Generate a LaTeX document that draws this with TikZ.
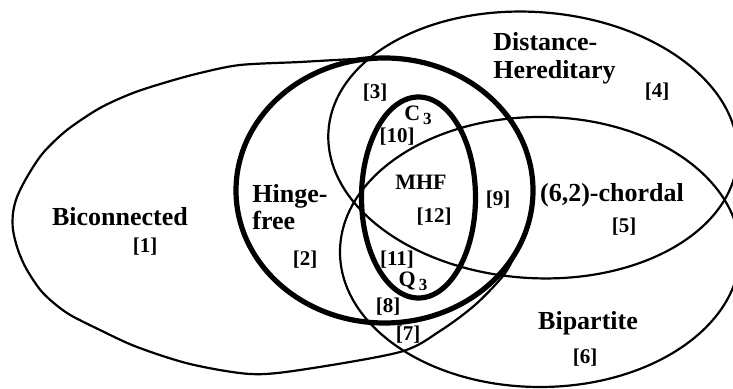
\documentclass[tikz,border=0pt]{standalone}
\usepackage{fontspec}
\setmainfont{Liberation Serif}
\begin{document}
\begin{tikzpicture}[x=0.5pt,y=-0.5pt,
  thinset/.style={line width=1.1pt},
  thickset/.style={line width=2.6pt},
  setname/.style={font=\fontsize{13}{13.8}\selectfont\bfseries,inner sep=0pt},
  regno/.style={font=\fontsize{10.5}{11}\selectfont\bfseries,inner sep=0pt},
  subname/.style={font=\fontsize{11}{12}\selectfont\bfseries,inner sep=0pt}]
\clip (0,0) rectangle (733,389);
\coordinate (hf) at (384.5,190.5);
\coordinate (mhfc) at (418.5,197.5);
\coordinate (dh) at (533,145);
\coordinate (bp) at (540,252);
% thin sets
\draw[thinset] plot[smooth cycle] coordinates {(13,213) (13,230) (18,250) (27,270) (43,293) (67,313) (100,330) (137,347) (190,364) (250,374) (300,370) (400,352) (440,331) (475,305) (503,276) (515,255) (527.9,224.8) (533,190.5) (527.9,156.2) (513.1,124.3) (489.5,96.8) (458.8,75.8) (422.9,62.5) (384.5,58) (345,59.5) (300,62) (240,65) (200,73) (167,82) (133,93) (100,108) (67,130) (43,153) (27,177) (17,197)};
\draw[thinset,rotate around={-4:(dh)}] (dh) ellipse[x radius=205,y radius=133];
\draw[thinset] (bp) ellipse[x radius=200,y radius=135];
% thick sets
\draw[thickset] (hf) ellipse[x radius=148.5,y radius=132.5];
\draw[thickset] (mhfc) ellipse[x radius=57,y radius=100.5];
% names
\node[setname] (bicname) at (120,217) {Biconnected};
\node[setname,align=left,anchor=west] (hfname) at (252,207) {Hinge-\\free};
\node[setname,align=left,anchor=west] (dhname) at (493,58) {Distance-\\Hereditary};
\node[setname] (chname) at (612,195) {(6,2)-chordal};
\node[setname] (bpname) at (588,323) {Bipartite};
\node[subname] (mhfname) at (421,182) {MHF};
\node[subname] (cname) at (418,115) {C\kern1.5pt\raisebox{-2pt}{\fontsize{8.5}{9}\selectfont 3}};
\node[subname] (qname) at (413,281) {Q\kern1.5pt\raisebox{-2pt}{\fontsize{8.5}{9}\selectfont 3}};
% region numbers
\node[regno] (r1) at (145,247) {[1]};
\node[regno] (r2) at (305,260) {[2]};
\node[regno] (r3) at (375,93) {[3]};
\node[regno] (r4) at (657,92) {[4]};
\node[regno] (r5) at (624,227) {[5]};
\node[regno] (r6) at (585,358) {[6]};
\node[regno] (r7) at (408,335) {[7]};
\node[regno] (r8) at (388,307) {[8]};
\node[regno] (r9) at (498,200) {[9]};
\node[regno] (r10) at (397,137) {[10]};
\node[regno] (r11) at (397,260) {[11]};
\node[regno] (r12) at (434,217) {[12]};
\end{tikzpicture}
\end{document}
